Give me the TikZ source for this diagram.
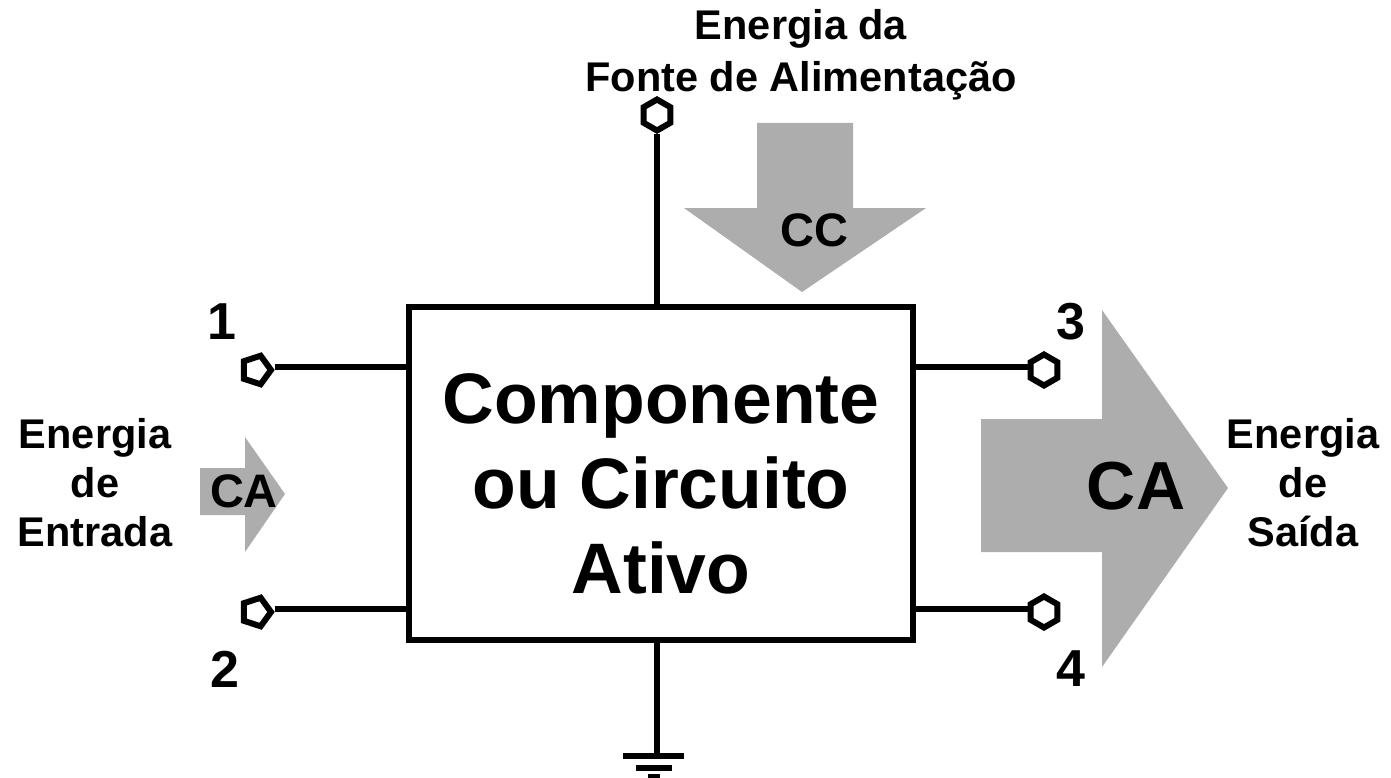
\documentclass[tikz,border=0pt]{standalone}
\usepackage{fontspec}
\setmainfont{Liberation Sans}
\usetikzlibrary{shapes.geometric}

\definecolor{setagray}{HTML}{ADADAD}
\tikzset{
  wire/.style={line width=6pt},
  seta/.style={fill=setagray},
  term/.style={draw, line width=6pt, fill=white, regular polygon, regular polygon sides=6, shape border rotate=90, minimum size=31pt, inner sep=0pt},
  termpent/.style={term, regular polygon sides=5, shape border rotate=-90, minimum size=30pt},
  txt/.style={font=\bfseries\fontsize{41.5}{49}\selectfont, align=center, inner sep=0pt},
  num/.style={font=\bfseries\fontsize{52}{60}\selectfont, inner sep=0pt},
  sigla/.style={font=\bfseries\fontsize{47}{56}\selectfont, inner sep=0pt},
}

\begin{document}
\begin{tikzpicture}[x=1pt,y=-1pt]
  \useasboundingbox (0,0) rectangle (1391,778);
  \clip (0,0) rectangle (1391,778);
  % setas
  \fill[seta] (757,123) -- (853,123) -- (853,208) -- (926,208) -- (802,292) -- (684,208) -- (757,208) -- cycle;
  \fill[seta] (200,468) -- (245,468) -- (245,437) -- (285,494) -- (245,552) -- (245,515) -- (200,515) -- cycle;
  \fill[seta] (981,419) -- (1102,419) -- (1102,310) -- (1228,488) -- (1102,667) -- (1102,552) -- (981,552) -- cycle;

  \node (bloco) [draw, line width=6pt, minimum width=504pt, minimum height=333pt, inner sep=0pt] at (661,473.5) {};
  \node (rotulo) [inner sep=0pt, font=\bfseries\fontsize{71.5}{85}\selectfont, align=center] at (661,484) {Componente\\ou Circuito\\Ativo};

  \node (t1) [termpent] at (256,370) {};
  \node (t2) [termpent] at (256,612) {};
  \node (t3) [term] at (1044,370) {};
  \node (t4) [term] at (1044,612) {};
  \node (t5) [term] at (657,115) {};
  \coordinate (terra) at (657,755);

  \path[wire]
  (t1.east |- 0,367) edge (bloco.west |- 0,367)
  (t2.east |- 0,609) edge (bloco.west |- 0,609)
  (t3.west |- 0,367) edge (bloco.east |- 0,367)
  (t4.west |- 0,609) edge (bloco.east |- 0,609)
  (t5) edge (t5 |- bloco.north)
  (terra) edge (terra |- bloco.south)
  ;
  % terra
  \draw[wire] (623,756) -- (684,756);
  \draw[wire] (636,768) -- (672,768);
  \draw[wire] (648,777) -- (660,777);

  \node (n1) [num] at (222,322) {1};
  \node (n2) [num] at (225,669) {2};
  \node (n3) [num] at (1071,322) {3};
  \node (n4) [num] at (1071,669) {4};

  \node (cc) [sigla] at (814,230) {CC};
  \node (cae) [sigla] at (244,491) {CA};
  \node (cas) [sigla, font=\bfseries\fontsize{68}{80}\selectfont] at (1136,486) {CA};

  \node (fonte) [txt, font=\bfseries\fontsize{41.5}{52}\selectfont] at (801,55) {Energia da\\Fonte de Alimentação};
  \node (entrada) [txt] at (95,483) {Energia\\de\\Entrada};
  \node (saida) [txt] at (1303,483) {Energia\\de\\Saída};
\end{tikzpicture}
\end{document}
